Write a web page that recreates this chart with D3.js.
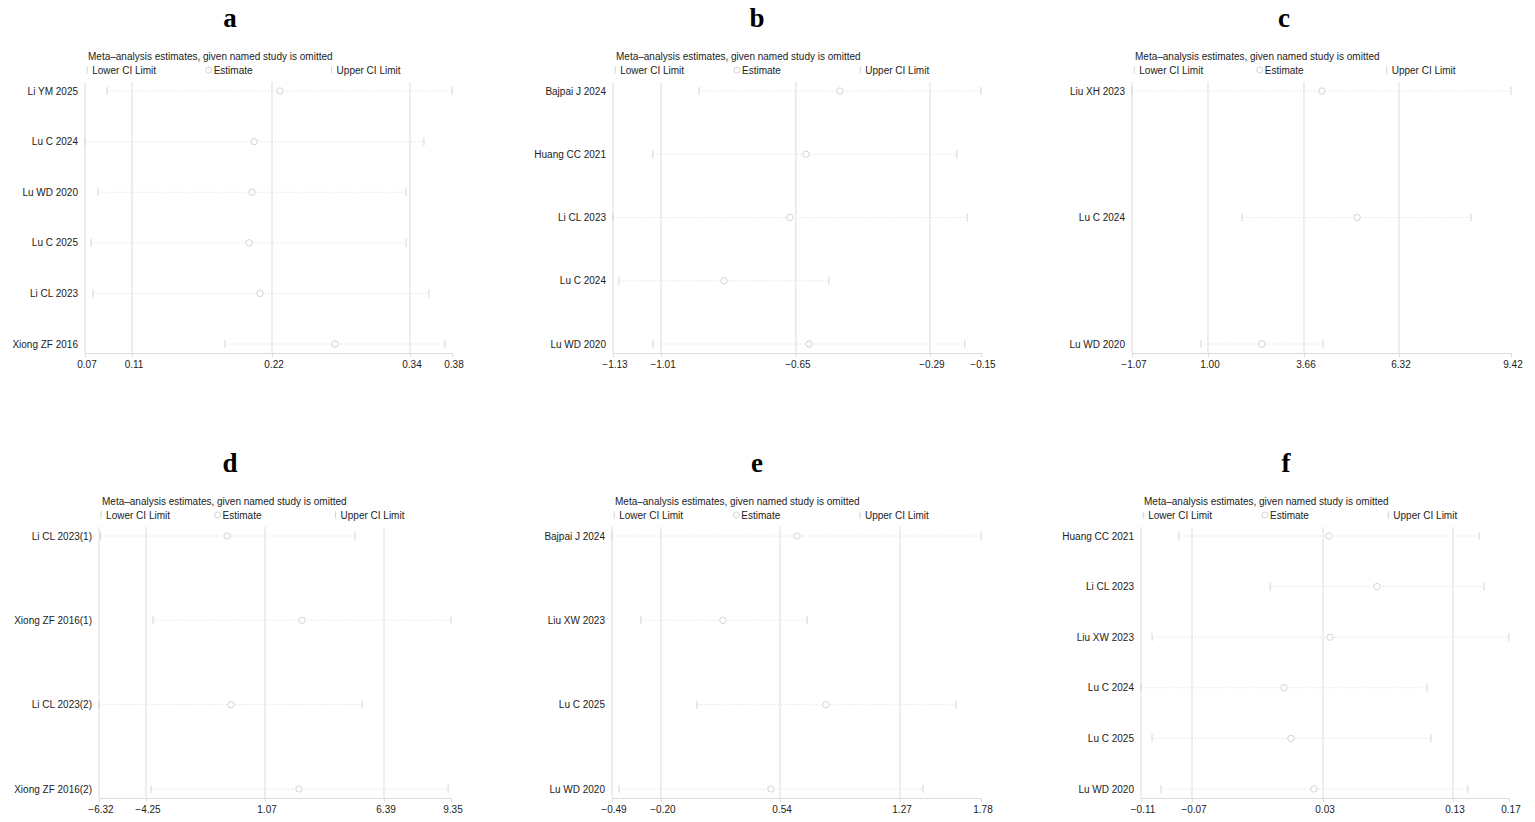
<!DOCTYPE html>
<html>
<head>
<meta charset="utf-8">
<script src="https://cdn.jsdelivr.net/npm/d3@7"></script>
<style>
  body { margin: 0; background: #fff; }
  text { font-family: "Liberation Sans", Arial, Helvetica, sans-serif; }
</style>
</head>
<body>
<div id="chart"></div>
<script>
var svgWidth = 1535;
var svgHeight = 822;

// ---- data ----
// panel a
var studiesA = ["Li YM 2025", "Lu C 2024", "Lu WD 2020", "Lu C 2025", "Li CL 2023", "Xiong ZF 2016"];
var lowerA = [0.0886, 0.0700, 0.0810, 0.0751, 0.0768, 0.1883];
var estA = [0.2347, 0.2128, 0.2111, 0.2085, 0.2178, 0.2812];
var upperA = [0.3800, 0.3563, 0.3411, 0.3411, 0.3606, 0.3741];
var ticksA = [0.0700, 0.1097, 0.2280, 0.3445, 0.3800];
var tickLabelsA = ["0.07", "0.11", "0.22", "0.34", "0.38"];

// panel b
var studiesB = ["Bajpai J 2024", "Huang CC 2021", "Li CL 2023", "Lu C 2024", "Lu WD 2020"];
var lowerB = [-0.901, -1.024, -1.130, -1.114, -1.024];
var estB = [-0.526, -0.616, -0.659, -0.834, -0.608];
var upperB = [-0.150, -0.214, -0.187, -0.555, -0.193];
var ticksB = [-1.130, -1.002, -0.643, -0.286, -0.150];
var tickLabelsB = ["\u22121.13", "\u22121.01", "\u22120.65", "\u22120.29", "\u22120.15"];

// panel c
var studiesC = ["Liu XH 2023", "Lu C 2024", "Lu WD 2020"];
var lowerC = [-1.07, 1.975, 0.840];
var estC = [4.189, 5.157, 2.528];
var upperC = [9.42, 8.313, 4.216];
var ticksC = [-1.07, 1.034, 3.690, 6.320, 9.42];
var tickLabelsC = ["\u22121.07", "1.00", "3.66", "6.32", "9.42"];

// panel d
var studiesD = ["Li CL 2023(1)", "Xiong ZF 2016(1)", "Li CL 2023(2)", "Xiong ZF 2016(2)"];
var lowerD = [-6.25, -3.916, -6.32, -4.005];
var estD = [-0.621, 2.718, -0.443, 2.585];
var upperD = [5.078, 9.35, 5.390, 9.219];
var ticksD = [-6.32, -4.227, 1.071, 6.369, 9.35];
var tickLabelsD = ["\u22126.32", "\u22124.25", "1.07", "6.39", "9.35"];

// panel e
var studiesE = ["Bajpai J 2024", "Liu XW 2023", "Lu C 2025", "Lu WD 2020"];
var lowerE = [-0.490, -0.312, 0.033, -0.447];
var estE = [0.648, 0.193, 0.826, 0.488];
var upperE = [1.780, 0.710, 1.626, 1.423];
var ticksE = [-0.490, -0.189, 0.544, 1.282, 1.780];
var tickLabelsE = ["\u22120.49", "\u22120.20", "0.54", "1.27", "1.78"];

// panel f
var studiesF = ["Huang CC 2021", "Li CL 2023", "Liu XW 2023", "Lu C 2024", "Lu C 2025", "Lu WD 2020"];
var lowerF = [-0.0811, -0.0118, -0.1016, -0.1100, -0.1016, -0.0948];
var estF = [0.0330, 0.0696, 0.0338, -0.0012, 0.0041, 0.0216];
var upperF = [0.1472, 0.1510, 0.1700, 0.1076, 0.1106, 0.1387];
var ticksF = [-0.1100, -0.0712, 0.0285, 0.1274, 0.1700];
var tickLabelsF = ["\u22120.11", "\u22120.07", "0.03", "0.13", "0.17"];

var panelTitles = ["a", "b", "c", "d", "e", "f"];

// ---- layout (pixels) ----
var panels = [
  { titleX: 230, left: 85, right: 452, top: 82, bottom: 353,
    studies: studiesA, lower: lowerA, est: estA, upper: upperA, ticks: ticksA, labels: tickLabelsA },
  { titleX: 757, left: 613, right: 981, top: 82, bottom: 353,
    studies: studiesB, lower: lowerB, est: estB, upper: upperB, ticks: ticksB, labels: tickLabelsB },
  { titleX: 1284, left: 1132, right: 1511, top: 82, bottom: 353,
    studies: studiesC, lower: lowerC, est: estC, upper: upperC, ticks: ticksC, labels: tickLabelsC },
  { titleX: 230, left: 99, right: 451, top: 527, bottom: 798,
    studies: studiesD, lower: lowerD, est: estD, upper: upperD, ticks: ticksD, labels: tickLabelsD },
  { titleX: 757, left: 612, right: 981, top: 527, bottom: 798,
    studies: studiesE, lower: lowerE, est: estE, upper: upperE, ticks: ticksE, labels: tickLabelsE },
  { titleX: 1286, left: 1141, right: 1509, top: 527, bottom: 798,
    studies: studiesF, lower: lowerF, est: estF, upper: upperF, ticks: ticksF, labels: tickLabelsF }
];

var svg = d3.select("#chart")
  .append("svg")
  .attr("width", svgWidth)
  .attr("height", svgHeight);

svg.append("rect")
  .attr("width", svgWidth)
  .attr("height", svgHeight)
  .attr("fill", "#fff");

var faint = "#dcdcdc";
var markColor = "#d4d4d4";
var fontPx = "10px";

function drawPanel(p, i) {
  var g = svg.append("g");
  var w = p.right - p.left;

  var x = d3.scaleLinear()
    .domain([p.ticks[0], p.ticks[p.ticks.length - 1]])
    .range([p.left, p.right]);

  var y = d3.scalePoint()
    .domain(p.studies)
    .range([p.top + 9, p.bottom - 9]);

  // panel letter
  g.append("text")
    .attr("x", p.titleX)
    .attr("y", p.top - 55)
    .attr("text-anchor", "middle")
    .style("font-family", "'Liberation Serif', 'Times New Roman', serif")
    .style("font-weight", "bold")
    .style("font-size", "27px")
    .attr("fill", "#000")
    .text(panelTitles[i]);

  // legend
  g.append("text")
    .attr("x", p.left + 3)
    .attr("y", p.top - 22)
    .style("font-size", fontPx)
    .attr("fill", "#222")
    .text("Meta\u2013analysis estimates, given named study is omitted");

  var legY = p.top - 12;
  var leg = [
    { off: 0.006, kind: "tick", label: "Lower CI Limit" },
    { off: 0.337, kind: "circle", label: "Estimate" },
    { off: 0.672, kind: "tick", label: "Upper CI Limit" }
  ];
  leg.forEach(function (l) {
    var lx = p.left + l.off * w;
    if (l.kind === "tick") {
      g.append("line")
        .attr("x1", lx).attr("x2", lx)
        .attr("y1", legY - 3.5).attr("y2", legY + 3.5)
        .attr("stroke", markColor);
    } else {
      g.append("circle")
        .attr("cx", lx).attr("cy", legY).attr("r", 3)
        .attr("fill", "none").attr("stroke", markColor);
    }
    g.append("text")
      .attr("x", lx + 5)
      .attr("y", legY + 3.5)
      .style("font-size", fontPx)
      .attr("fill", "#222")
      .text(l.label);
  });

  // reference lines at overall lower / estimate / upper
  g.selectAll(".ref")
    .data(p.ticks.slice(1, 4))
    .enter()
    .append("line")
    .attr("x1", d => x(d)).attr("x2", d => x(d))
    .attr("y1", p.top).attr("y2", p.bottom)
    .attr("stroke", faint)
    .attr("stroke-width", 1);

  // left frame line
  g.append("line")
    .attr("x1", p.left).attr("x2", p.left)
    .attr("y1", p.top).attr("y2", p.bottom)
    .attr("stroke", faint);

  // x axis
  var axis = d3.axisBottom(x)
    .tickValues(p.ticks)
    .tickSize(4)
    .tickFormat((d, k) => p.labels[k]);

  var ax = g.append("g")
    .attr("transform", `translate(0, ${p.bottom})`)
    .call(axis);
  ax.select(".domain").attr("stroke", faint);
  ax.selectAll(".tick line").attr("stroke", faint);
  ax.selectAll(".tick text")
    .attr("y", 8)
    .attr("dx", 1.5)
    .style("font-size", fontPx)
    .style("font-family", "'Liberation Sans', Arial, sans-serif")
    .attr("fill", "#222");

  // study labels
  g.selectAll(".study")
    .data(p.studies)
    .enter()
    .append("text")
    .attr("x", p.left - 7)
    .attr("y", d => y(d))
    .attr("dy", "0.35em")
    .attr("text-anchor", "end")
    .style("font-size", fontPx)
    .attr("fill", "#222")
    .text(d => d);

  // CI rows
  p.studies.forEach(function (s, k) {
    var yy = y(s);
    g.append("line")
      .attr("x1", x(p.lower[k])).attr("x2", x(p.upper[k]))
      .attr("y1", yy).attr("y2", yy)
      .attr("stroke", "#e8e8e8")
      .attr("stroke-dasharray", "2,1.5");
    [p.lower[k], p.upper[k]].forEach(function (v) {
      g.append("line")
        .attr("x1", x(v)).attr("x2", x(v))
        .attr("y1", yy - 4).attr("y2", yy + 4)
        .attr("stroke", markColor);
    });
    g.append("circle")
      .attr("cx", x(p.est[k])).attr("cy", yy).attr("r", 3.2)
      .attr("fill", "#fff")
      .attr("stroke", markColor);
  });
}

panels.forEach(drawPanel);
</script>
</body>
</html>
